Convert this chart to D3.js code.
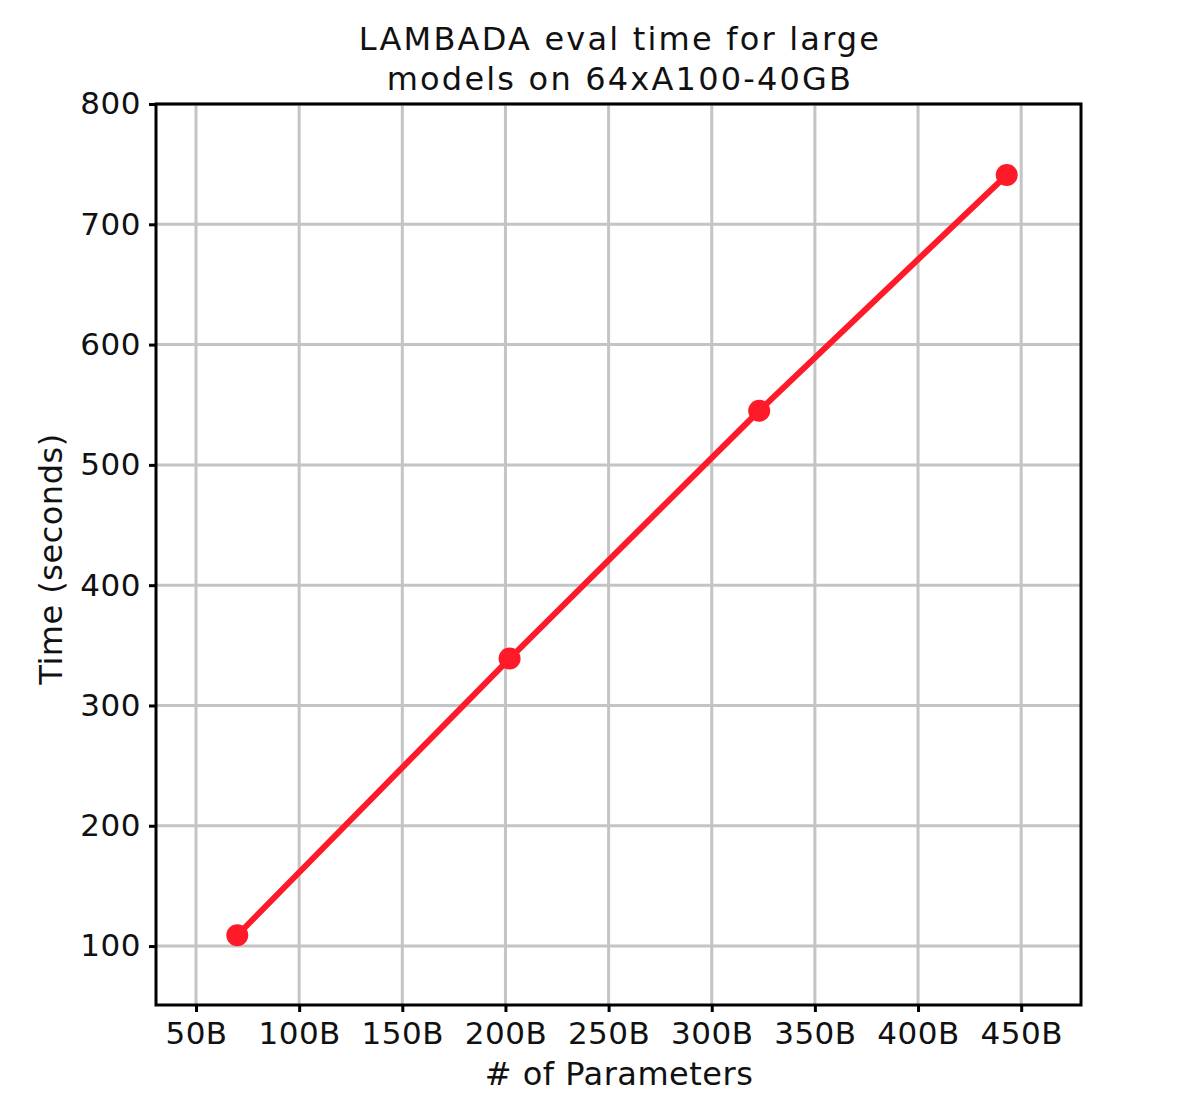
<!DOCTYPE html>
<html>
<head>
<meta charset="utf-8">
<script src="https://cdn.jsdelivr.net/npm/d3@7"></script>
<style>
body { margin: 0; background: #fff; }
text { font-family: "DejaVu Sans", sans-serif; fill: #111; }
</style>
</head>
<body>
<div id="chart"></div>
<script>
// data
var params = [70, 202, 323, 443];      // billions of parameters
var times = [109, 339, 545, 741];      // seconds
var xTicks = [50, 100, 150, 200, 250, 300, 350, 400, 450];
var yTicks = [100, 200, 300, 400, 500, 600, 700, 800];

var svg = d3.select("#chart").append("svg")
	.attr("width", 1200)
	.attr("height", 1118);

// plot box (note: "top" is reserved on window, so prefixed names)
var plotLeft = 156, plotRight = 1081, plotTop = 104, plotBottom = 1005;

var x = d3.scaleLinear().domain([30.6, 479]).range([plotLeft, plotRight]);
var y = d3.scaleLinear().domain([51, 800]).range([plotBottom, plotTop]);

// grid
var grid = svg.append("g");
grid.selectAll(".gx").data(xTicks).enter().append("line")
	.attr("x1", d => x(d)).attr("x2", d => x(d))
	.attr("y1", plotTop).attr("y2", plotBottom)
	.attr("stroke", "#c4c4c4").attr("stroke-width", 3);
grid.selectAll(".gy").data(yTicks).enter().append("line")
	.attr("x1", plotLeft).attr("x2", plotRight)
	.attr("y1", d => y(d)).attr("y2", d => y(d))
	.attr("stroke", "#c4c4c4").attr("stroke-width", 3);

// axes
var xAxis = svg.append("g")
	.attr("transform", "translate(0," + plotBottom + ")")
	.call(d3.axisBottom(x).tickValues(xTicks).tickFormat(d => d + "B").tickSize(7).tickPadding(10));
var yAxis = svg.append("g")
	.attr("transform", "translate(" + plotLeft + ",0)")
	.call(d3.axisLeft(y).tickValues(yTicks).tickSize(7).tickPadding(8));

[xAxis, yAxis].forEach(function(a) {
	a.select(".domain").remove();
	a.selectAll(".tick line").attr("stroke", "#000").attr("stroke-width", 3);
	a.selectAll(".tick text").style("font-size", "31px").style("letter-spacing", "0.5px").attr("fill", "#111");
});

// frame
svg.append("rect")
	.attr("x", plotLeft).attr("y", plotTop)
	.attr("width", plotRight - plotLeft).attr("height", plotBottom - plotTop)
	.attr("fill", "none").attr("stroke", "#000").attr("stroke-width", 3);

// line and markers
var pts = params.map((p, i) => [p, times[i]]);
svg.append("path")
	.datum(pts)
	.attr("fill", "none")
	.attr("stroke", "#ff1a2a")
	.attr("stroke-width", 6)
	.attr("d", d3.line().x(d => x(d[0])).y(d => y(d[1])));
svg.selectAll(".dot").data(pts).enter().append("circle")
	.attr("cx", d => x(d[0])).attr("cy", d => y(d[1]))
	.attr("r", 11).attr("fill", "#ff1a2a");

// titles
svg.append("text").attr("x", 620).attr("y", 50)
	.attr("text-anchor", "middle").style("font-size", "32px").style("letter-spacing", "2.2px")
	.text("LAMBADA eval time for large");
svg.append("text").attr("x", 620).attr("y", 90)
	.attr("text-anchor", "middle").style("font-size", "32px").style("letter-spacing", "2.2px")
	.text("models on 64xA100-40GB");
svg.append("text").attr("x", 619).attr("y", 1085)
	.attr("text-anchor", "middle").style("font-size", "32px").style("letter-spacing", "0.5px")
	.text("# of Parameters");
svg.append("text")
	.attr("transform", "translate(62,559) rotate(-90)")
	.attr("text-anchor", "middle").style("font-size", "32px").style("letter-spacing", "0.5px")
	.text("Time (seconds)");
</script>
</body>
</html>
